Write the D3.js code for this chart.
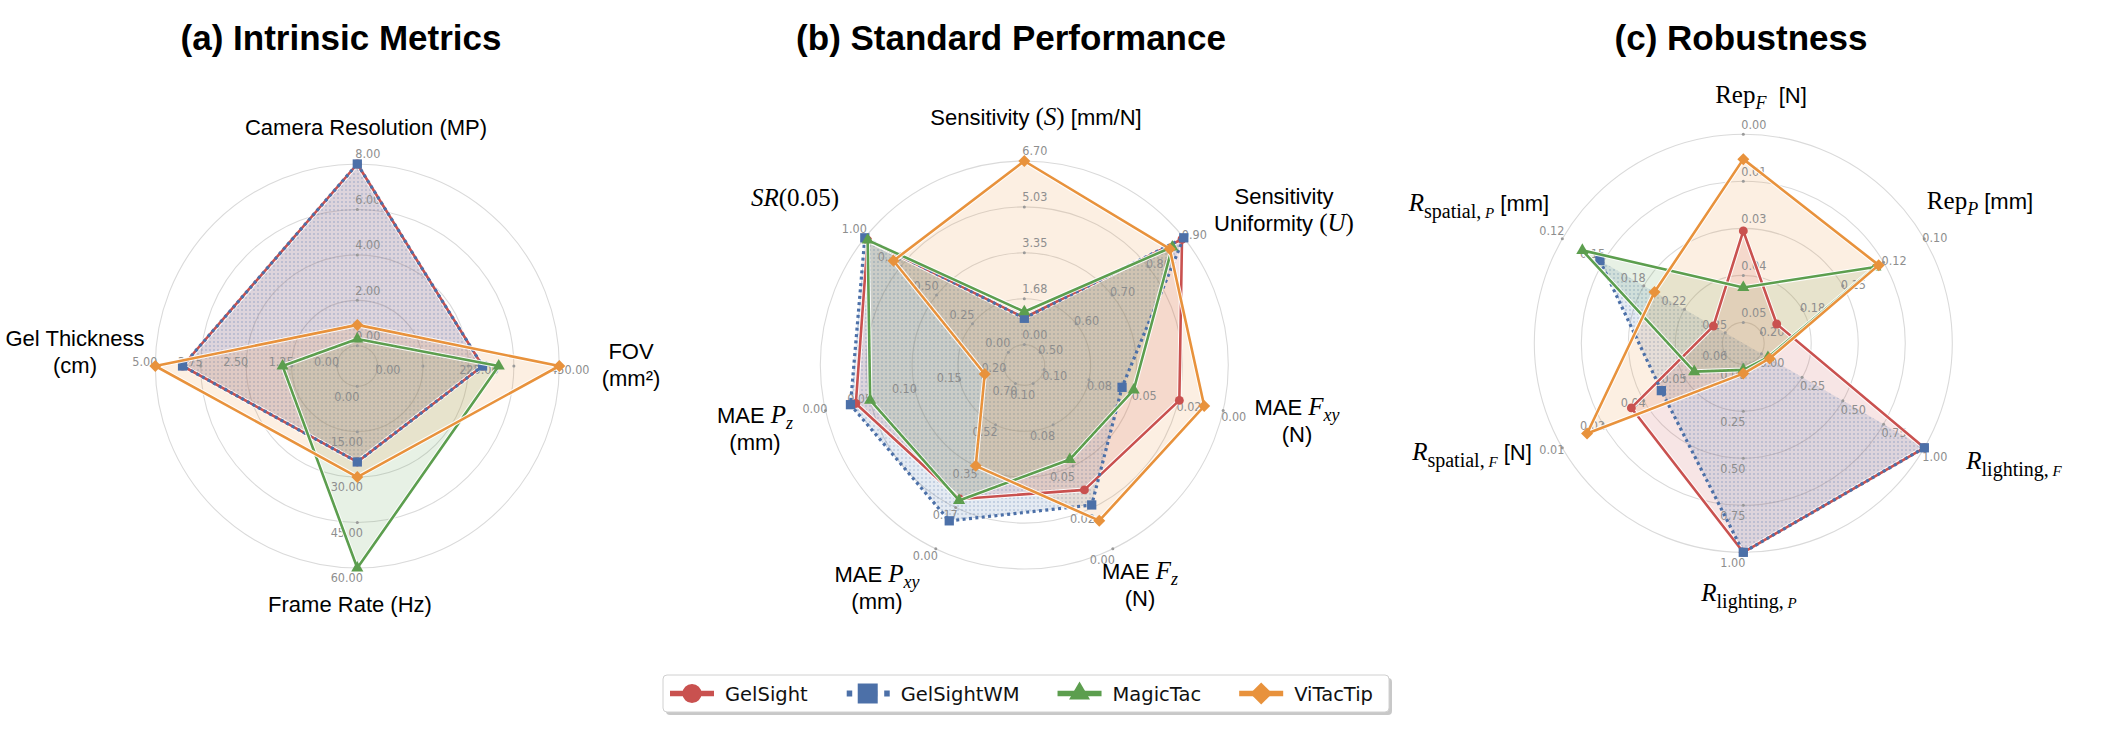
<!DOCTYPE html>
<html><head><meta charset="utf-8">
<script src="https://cdn.jsdelivr.net/npm/d3@7"></script>
<style>body{margin:0;background:#fff} svg{display:block} text{white-space:pre}</style>
</head><body><svg id="chart" width="2112" height="752"></svg>
<script>
// ---------------- DATA ----------------
const seriesNames = ["GelSight", "GelSightWM", "MagicTac", "ViTacTip"];

// (a) Intrinsic Metrics — axes clockwise from top
const intrinsicAxes = ["Camera Resolution (MP)", "FOV (mm²)", "Frame Rate (Hz)", "Gel Thickness (cm)"];
const intrinsicDomains = [[0, 8], [0, 450], [0, 60], [0, 5]];
const intrinsicTicks = [
  ["0.00", "2.00", "4.00", "6.00", "8.00"],
  ["0.00", "", "225.00", "", "450.00"],
  ["0.00", "15.00", "30.00", "45.00", "60.00"],
  ["0.00", "1.25", "2.50", "3.75", "5.00"]
];
const intrinsicGelSight   = [8.0, 260, 25, 4.25];
const intrinsicGelSightWM = [8.0, 260, 25, 4.25];
const intrinsicMagicTac   = [0.3, 300, 60, 1.5];
const intrinsicViTacTip   = [0.92, 450, 30, 5.0];

// (b) Standard Performance
const standardAxes = ["Sensitivity (S) [mm/N]", "Sensitivity Uniformity (U)", "MAE F_xy (N)", "MAE F_z (N)", "MAE P_xy (mm)", "MAE P_z (mm)", "SR(0.05)"];
const standardDomains = [[0, 6.7], [0.5, 0.9], [0.1, 0], [0.1, 0], [0.698, 0], [0.2, 0], [0, 1]];
const standardTicks = [
  ["0.00", "1.68", "3.35", "5.03", "6.70"],
  ["0.50", "0.60", "0.70", "0.80", "0.90"],
  ["0.10", "0.08", "0.05", "0.02", "0.00"],
  ["0.10", "0.08", "0.05", "0.02", "0.00"],
  ["0.70", "0.52", "0.35", "0.17", "0.00"],
  ["0.20", "0.15", "0.10", "0.05", "0.00"],
  ["0.00", "0.25", "0.50", "0.75", "1.00"]
];
const standardGelSight   = [0.98, 0.895, 0.0245, 0.0356, 0.210, 0.034, 0.98];
const standardGelSightWM = [0.96, 0.900, 0.0565, 0.0265, 0.118, 0.028, 1.00];
const standardMagicTac   = [1.20, 0.868, 0.0500, 0.0540, 0.204, 0.050, 0.98];
const standardViTacTip   = [6.70, 0.861, 0.0106, 0.0170, 0.350, 0.178, 0.80];

// (c) Robustness
const robustAxes = ["Rep_F [N]", "Rep_P [mm]", "R_lighting,F", "R_lighting,P", "R_spatial,F [N]", "R_spatial,P [mm]"];
const robustDomains = [[0.05, 0], [0.2, 0.1], [0, 1], [0, 1], [0.06, 0.01], [0.25, 0.12]];
const robustTicks = [
  ["0.05", "0.04", "0.03", "0.01", "0.00"],
  ["0.20", "0.18", "0.15", "0.12", "0.10"],
  ["0.00", "0.25", "0.50", "0.75", "1.00"],
  ["0.00", "0.25", "0.50", "0.75", "1.00"],
  ["0.06", "0.05", "0.04", "0.02", "0.01"],
  ["0.25", "0.22", "0.18", "0.15", "0.12"]
];
const robustGelSight   = [0.0257, 0.1906, 1.00, 1.00, 0.0312, 0.2406];
const robustGelSightWM = [null, null, 1.00, 1.00, 0.0404, 0.150];
const robustMagicTac   = [0.0407, 0.130, 0.04, 0.03, 0.0505, 0.136];
const robustViTacTip   = [0.0066, 0.128, 0.05, 0.05, 0.0176, 0.1936];

// ---------------- STYLE / LAYOUT ----------------
const SANS = "'Liberation Sans', Arial, Helvetica, sans-serif";
const SERIF = "'Liberation Serif', 'Times New Roman', serif";
const TICKFONT = "'DejaVu Sans Condensed', 'DejaVu Sans', sans-serif";
const seriesStyle = [
  {color: "#C9514F", dash: null, symbol: "circle"},
  {color: "#4C70A8", dash: "3 3.4", symbol: "square"},
  {color: "#5C9E4E", dash: null, symbol: "triangle"},
  {color: "#E8923C", dash: null, symbol: "diamond"}
];

// rich label specs: lines of [text, kind]
const intrinsicLabelSpec = [
  [[["Camera Resolution (MP)", "sans"]]],
  [[["FOV", "sans"]], [["(mm²)", "sans"]]],
  [[["Frame Rate (Hz)", "sans"]]],
  [[["Gel Thickness", "sans"]], [["(cm)", "sans"]]]
];
const standardLabelSpec = [
  [[["Sensitivity ", "sans"], ["(", "serif"], ["S", "serifI"], [")", "serif"], [" [mm/N]", "sans"]]],
  [[["Sensitivity", "sans"]], [["Uniformity ", "sans"], ["(", "serif"], ["U", "serifI"], [")", "serif"]]],
  [[["MAE ", "sans"], ["F", "serifI"], ["xy", "subI"]], [["(N)", "sans"]]],
  [[["MAE ", "sans"], ["F", "serifI"], ["z", "subI"]], [["(N)", "sans"]]],
  [[["MAE ", "sans"], ["P", "serifI"], ["xy", "subI"]], [["(mm)", "sans"]]],
  [[["MAE ", "sans"], ["P", "serifI"], ["z", "subI"]], [["(mm)", "sans"]]],
  [[["SR", "serifI"], ["(0.05)", "serif"]]]
];
const robustLabelSpec = [
  [[["Rep", "serif"], ["F", "subI"], ["  [N]", "sans"]]],
  [[["Rep", "serif"], ["P", "subI"], [" [mm]", "sans"]]],
  [[["R", "serifI"], ["lighting,", "sub"], [" F", "subI2"]]],
  [[["R", "serifI"], ["lighting,", "sub"], [" P", "subI2"]]],
  [[["R", "serifI"], ["spatial,", "sub"], [" F", "subI2"], [" [N]", "sans"]]],
  [[["R", "serifI"], ["spatial,", "sub"], [" P", "subI2"], [" [mm]", "sans"]]]
];

const charts = [
  {title: "(a) Intrinsic Metrics", tx: 341, cx: 357.3, cy: 366, R: 202,
   axes: intrinsicAxes, domains: intrinsicDomains, ticks: intrinsicTicks, labels: intrinsicLabelSpec,
   labelPos: [[366, 127], [631, 351], [350, 604], [75, 338]],
   series: [intrinsicGelSight, intrinsicGelSightWM, intrinsicMagicTac, intrinsicViTacTip]},
  {title: "(b) Standard Performance", tx: 1011, cx: 1024.3, cy: 365, R: 204,
   axes: standardAxes, domains: standardDomains, ticks: standardTicks, labels: standardLabelSpec,
   labelPos: [[1036, 117], [1284, 196], [1297, 407], [1140, 571], [877, 574], [755, 415], [795, 198]],
   series: [standardGelSight, standardGelSightWM, standardMagicTac, standardViTacTip]},
  {title: "(c) Robustness", tx: 1741, cx: 1743.3, cy: 343.3, R: 209,
   axes: robustAxes, domains: robustDomains, ticks: robustTicks, labels: robustLabelSpec,
   labelPos: [[1761, 95], [1980, 201], [2014, 461], [1749, 593], [1472, 452], [1479, 203]],
   series: [robustGelSight, robustGelSightWM, robustMagicTac, robustViTacTip]}
];

// ---------------- DRAW ----------------
const svg = d3.select("#chart");
const defs = svg.append("defs");
const pat = defs.append("pattern").attr("id", "wmdots").attr("width", 4).attr("height", 4)
  .attr("patternUnits", "userSpaceOnUse");
pat.append("circle").attr("cx", 2).attr("cy", 2).attr("r", 0.75).attr("fill", seriesStyle[1].color).attr("opacity", 0.55);

function symbolPath(kind, size) {
  const map = {circle: d3.symbolCircle, square: d3.symbolSquare, triangle: d3.symbolTriangle, diamond: d3.symbolSquare};
  return d3.symbol().type(map[kind]).size(size)();
}
const markerSize = {circle: 62, square: 86, triangle: 64, diamond: 72};

function addRichText(g, spec, x, y, lineGap) {
  spec.forEach((line, li) => {
    const t = g.append("text").attr("x", x).attr("y", y + li * lineGap + 8)
      .attr("text-anchor", "middle").attr("fill", "#000");
    let shift = 0;
    line.forEach(([txt, kind]) => {
      const ts = t.append("tspan").text(txt);
      let fam = SANS, size = 22, style = "normal", target = 0;
      if (kind === "serif") { fam = SERIF; size = 25; }
      if (kind === "serifI") { fam = SERIF; size = 25; style = "italic"; }
      if (kind === "subI") { fam = SERIF; size = 18; style = "italic"; target = 6; }
      if (kind === "sub") { fam = SERIF; size = 20; target = 7; }
      if (kind === "subI2") { fam = SERIF; size = 15; style = "italic"; target = 7; }
      ts.attr("font-family", fam).attr("font-size", size).attr("font-style", style);
      if (target !== shift) { ts.attr("dy", target - shift); shift = target; }
    });
  });
}

charts.forEach(ch => {
  const g = svg.append("g");
  const n = ch.axes.length;
  const angle = i => i * 2 * Math.PI / n;
  const r0 = 0.1 * ch.R;
  const scales = ch.domains.map(d => d3.scaleLinear().domain(d).range([r0, ch.R]));
  const pos = (i, r) => [ch.cx + r * Math.sin(angle(i)), ch.cy - r * Math.cos(angle(i))];

  // title
  svg.append("text").attr("x", ch.tx).attr("y", 50).attr("text-anchor", "middle")
    .attr("font-family", SANS).attr("font-weight", "bold").attr("font-size", 35).text(ch.title);

  // rings
  const ringT = [0, 0.25, 0.5, 0.75, 1];
  g.selectAll("circle.ring").data(ringT).join("circle").attr("class", "ring")
    .attr("cx", ch.cx).attr("cy", ch.cy).attr("r", t => r0 + t * (ch.R - r0))
    .attr("fill", "none").attr("stroke", "#dadada").attr("stroke-width", 1.1);

  // fills
  ch.series.forEach((vals, si) => {
    const pts = vals.map((v, i) => v == null ? null : pos(i, scales[i](v))).filter(p => p);
    const d = "M" + pts.map(p => p.join(",")).join("L") + "Z";
    g.append("path").attr("d", d).attr("fill", seriesStyle[si].color).attr("fill-opacity", 0.15).attr("stroke", "none");
    if (si === 1) g.append("path").attr("d", d).attr("fill", "url(#wmdots)").attr("stroke", "none");
  });

  // tick dots and labels
  ch.ticks.forEach((labels, i) => {
    const th = angle(i);
    const sx = Math.sin(th + Math.PI / 6) >= 0 ? 1 : -1;
    const ox = sx * 10.5, oy = -10 * Math.cos(th) + 4 * Math.sin(th);
    labels.forEach((lab, k) => {
      const t = ringT[k];
      const [x, y] = pos(i, r0 + t * (ch.R - r0));
      g.append("circle").attr("cx", x).attr("cy", y).attr("r", 1.5).attr("fill", "#9a9a9a");
      if (lab) g.append("text").attr("x", x + ox).attr("y", y + oy).attr("dy", "0.35em")
        .attr("text-anchor", "middle").attr("font-family", TICKFONT).attr("font-stretch", "condensed")
        .attr("font-size", 12.5).attr("fill", "#8e8e8e").text(lab);
    });
  });

  // lines + markers
  ch.series.forEach((vals, si) => {
    const st = seriesStyle[si];
    const pts = vals.map((v, i) => v == null ? null : pos(i, scales[i](v)));
    const closed = pts.concat([pts[0]]);
    const line = d3.line().defined(p => p != null)(closed);
    if (!st.dash) {
      g.append("path").attr("d", line).attr("fill", "none").attr("stroke", "#fff")
        .attr("stroke-width", 4.6).attr("stroke-linejoin", "round").attr("stroke-opacity", 0.9);
      g.append("path").attr("d", line).attr("fill", "none").attr("stroke", st.color)
        .attr("stroke-width", 2.6).attr("stroke-linejoin", "round");
    } else {
      g.append("path").attr("d", line).attr("fill", "none").attr("stroke", st.color)
        .attr("stroke-width", 3.2).attr("stroke-dasharray", st.dash);
    }
    pts.forEach(p => {
      if (!p) return;
      g.append("path").attr("d", symbolPath(st.symbol, markerSize[st.symbol]))
        .attr("transform", `translate(${p[0]},${p[1]})` + (st.symbol === "diamond" ? " rotate(45)" : ""))
        .attr("fill", st.color);
    });
  });

  // axis labels
  ch.labels.forEach((spec, i) => addRichText(g, spec, ch.labelPos[i][0], ch.labelPos[i][1], 27));
});

// ---------------- LEGEND ----------------
const lg = svg.append("g");
const LX = 663, LY = 675, LW = 726, LH = 37;
lg.append("rect").attr("x", LX + 3).attr("y", LY + 3).attr("width", LW).attr("height", LH).attr("rx", 4)
  .attr("fill", "#9a9a9a").attr("opacity", 0.55);
lg.append("rect").attr("x", LX).attr("y", LY).attr("width", LW).attr("height", LH).attr("rx", 4)
  .attr("fill", "#fff").attr("stroke", "#d0d0d0").attr("stroke-width", 1);
const legSize = {circle: 290, square: 400, triangle: 190, diamond: 240};
let lx = 670;
const ly = LY + 18.5;
seriesNames.forEach((name, si) => {
  const st = seriesStyle[si];
  const e = lg.append("g");
  const ln = e.append("line").attr("x1", lx).attr("x2", lx + 44).attr("y1", ly).attr("y2", ly)
    .attr("stroke", st.color).attr("stroke-width", st.dash ? 6 : 5.5);
  if (st.dash) ln.attr("stroke-dasharray", "5.5 7").attr("stroke-dashoffset", -1);
  e.append("path").attr("d", symbolPath(st.symbol, legSize[st.symbol]))
    .attr("transform", `translate(${lx + 22},${ly})` + (st.symbol === "diamond" ? " rotate(45)" : ""))
    .attr("fill", st.color);
  const t = e.append("text").attr("x", lx + 55).attr("y", ly + 7).attr("font-family", "'DejaVu Sans', sans-serif")
    .attr("font-size", 19.5).attr("fill", "#111").text(name);
  lx += 55 + t.node().getComputedTextLength() + 38;
});
</script></body></html>
